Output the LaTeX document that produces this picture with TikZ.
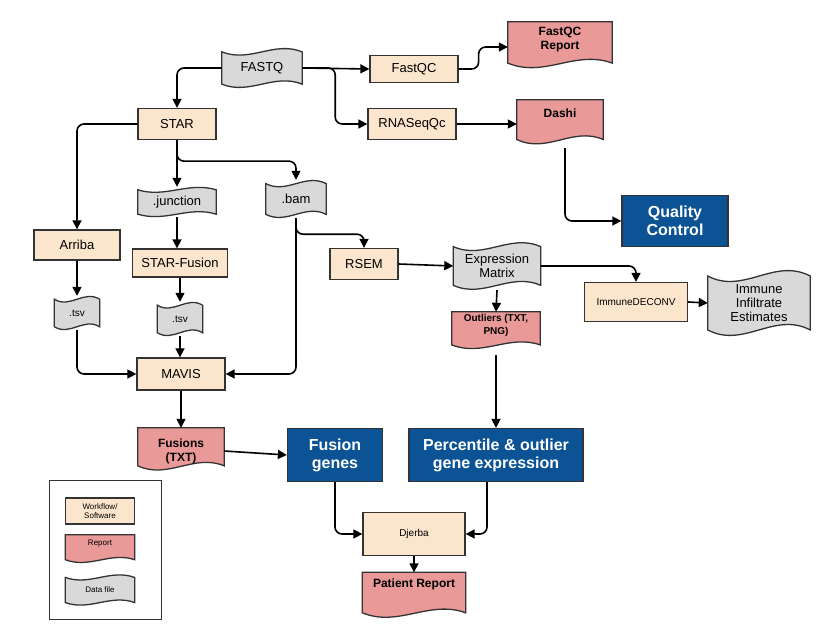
\documentclass[tikz,border=0pt]{standalone}
\usepackage{fontspec}
\setmainfont{Liberation Sans}
\usetikzlibrary{arrows.meta,calc,backgrounds}
\definecolor{beige}{HTML}{FCE5CD}
\definecolor{pinkr}{HTML}{EA9999}
\definecolor{grayd}{HTML}{D9D9D9}
\definecolor{blueq}{HTML}{0B5394}
\definecolor{bord}{HTML}{333333}
\newcommand\mydoc[2]{\begin{pgfonlayer}{background}\path[fill=#2,draw=bord,line width=1.3pt] let \p1=(#1.north west), \p2=(#1.south east), \n1={\y1-\y2}, \n2={\x2-\x1} in
 (\x1,\y1) -- (\x2,\y1) -- (\x2,{\y2+0.18*\n1}) .. controls ({\x2-0.35*\n2},{\y2+0.45*\n1}) and ({\x1+0.35*\n2},{\y2-0.12*\n1}) .. (\x1,{\y2+0.18*\n1}) -- cycle;\end{pgfonlayer}}
\newcommand\mytape[2]{\begin{pgfonlayer}{background}\path[fill=#2,draw=bord,line width=1.3pt] let \p1=(#1.north west), \p2=(#1.south east), \n1={\y1-\y2}, \n2={\x2-\x1} in
 (\x1,{\y1-0.1*\n1}) .. controls ({\x1+0.35*\n2},{\y1-0.38*\n1}) and ({\x2-0.35*\n2},{\y1+0.18*\n1}) .. (\x2,{\y1-0.1*\n1})
 -- (\x2,{\y2+0.1*\n1}) .. controls ({\x2-0.35*\n2},{\y2+0.38*\n1}) and ({\x1+0.35*\n2},{\y2-0.18*\n1}) .. (\x1,{\y2+0.1*\n1}) -- cycle;\end{pgfonlayer}}
\begin{document}
\begin{tikzpicture}[x=1pt,y=-1pt,
 base/.style={inner sep=0pt,align=center,font=\fontsize{13}{14}\selectfont},
 box/.style={base,draw=bord,fill=beige,line width=1.3pt},
 sh/.style={base},
 blue/.style={base,draw=bord,fill=blueq,line width=1.3pt,text=white,font=\fontsize{16}{18}\selectfont\bfseries},
 small/.style={font=\fontsize{10}{11}\selectfont},
 bfs/.style={font=\fontsize{12}{14}\selectfont\bfseries},
 arr/.style={draw=black,line width=1.6pt,rounded corners=7,-{Triangle[length=9pt,width=9pt]}},
 ln/.style={draw=black,line width=1.6pt,rounded corners=7}]
\path[use as bounding box] (0,0) rectangle (826,636);
\node[sh,minimum width=80,minimum height=40] (fastq) at (262,68) {FASTQ}; \mytape{fastq}{grayd}
\node[box,minimum width=88,minimum height=27] (fastqc) at (414,69) {FastQC};
\node[sh,bfs,minimum width=104,minimum height=50] (fqr) at (560,47) {FastQC\\Report\\[4pt]}; \mydoc{fqr}{pinkr}
\node[box,minimum width=78,minimum height=31] (star) at (177,124) {STAR};
\node[box,minimum width=88,minimum height=31] (rna) at (412,124) {RNASeqQc};
\node[sh,bfs,minimum width=86,minimum height=48] (dashi) at (560,124) {Dashi\\[8pt]}; \mydoc{dashi}{pinkr}
\node[blue,minimum width=106,minimum height=51] (qc) at (675,221) {Quality\\Control};
\node[sh,minimum width=78,minimum height=30] (junc) at (177,202) {.junction}; \mytape{junc}{grayd}
\node[sh,minimum width=60,minimum height=38] (bam) at (296,199) {.bam}; \mytape{bam}{grayd}
\node[box,minimum width=86,minimum height=30] (arriba) at (77,245) {Arriba};
\node[box,minimum width=95,minimum height=28] (sf) at (180,263) {STAR-Fusion};
\node[box,minimum width=68,minimum height=31] (rsem) at (364,264) {RSEM};
\node[sh,minimum width=87,minimum height=48] (expr) at (497,266) {Expression\\Matrix}; \mytape{expr}{grayd}
\node[box,small,minimum width=103,minimum height=39] (imm) at (636,302) {ImmuneDECONV};
\node[sh,minimum width=102,minimum height=67] (ies) at (759,303) {Immune\\Infiltrate\\Estimates}; \mytape{ies}{grayd}
\node[sh,small,minimum width=45,minimum height=34] (tsv1) at (77,313) {.tsv}; \mytape{tsv1}{grayd}
\node[sh,small,minimum width=45,minimum height=34] (tsv2) at (180,319) {.tsv}; \mytape{tsv2}{grayd}
\node[sh,font=\fontsize{10}{13}\selectfont\bfseries,minimum width=88,minimum height=40] (out) at (496,332) {Outliers (TXT,\\PNG)\\[2pt]}; \mydoc{out}{pinkr}
\node[box,minimum width=88,minimum height=32] (mavis) at (181,374) {MAVIS};
\node[sh,bfs,minimum width=86,minimum height=46] (fus) at (181,451) {Fusions\\(TXT)}; \mydoc{fus}{pinkr}
\node[blue,minimum width=95,minimum height=53] (fg) at (335,455) {Fusion\\genes};
\node[blue,minimum width=174,minimum height=53] (pct) at (496,455) {Percentile \& outlier\\gene expression};
\node[box,small,minimum width=102,minimum height=43] (dj) at (414,534) {Djerba};
\node[sh,bfs,minimum width=103,minimum height=49] (pr) at (414,597) {Patient Report\\[14pt]}; \mydoc{pr}{pinkr}
% legend
\node[draw=bord,line width=1pt,minimum width=112,minimum height=139] (leg) at (105,549.5) {};
\node[box,font=\fontsize{8}{9}\selectfont,minimum width=69,minimum height=26] (lw) at (100,511) {Workflow/\\Software};
\node[sh,font=\fontsize{8}{9}\selectfont,minimum width=69,minimum height=30] (lr) at (100,550) {Report\\[6pt]}; \mydoc{lr}{pinkr}
\node[sh,font=\fontsize{8}{9}\selectfont,minimum width=69,minimum height=31] (ld) at (100,590) {Data file}; \mytape{ld}{grayd}
% connectors
\draw[arr] (fastq.west) -| (star.north);
\draw[arr] (fastq.east) -- (fastqc.west);
\draw[arr] (fastq.east) -- ++(33,0) |- (rna.west);
\draw[arr] (fastqc.east) -- ++(20,0) |- (fqr.west);
\draw[arr] (rna.east) -- (dashi.west);
\draw[arr] ([xshift=5]dashi.south) |- (qc.west);
\draw[arr] (star.west) -| (arriba.north);
\draw[arr] (star.south) -- (junc.north);
\draw[arr] (star.south) -- ++(0,21) -| (bam.north);
\draw[arr] (junc.south) -- (sf.north -| junc.south);
\draw[arr] (sf.south) -- (tsv2.north);
\draw[arr] (tsv2.south) -- (mavis.north -| tsv2.south);
\draw[arr] (arriba.south) -- (tsv1.north);
\draw[arr] (tsv1.south) |- (mavis.west);
\draw[arr] (bam.south) |- (mavis.east);
\draw[arr] (bam.south) -- ++(0,16) -| (rsem.north);
\draw[arr] (rsem.east) -- (expr.west);
\draw[arr] (expr.east) -| (imm.north);
\draw[arr] (expr.south) -- (out.north);
\draw[arr] (imm.east) -- (ies.west);
\draw[arr] ([yshift=-3]out.south) -- (pct.north);
\draw[arr] (mavis.south) -- (fus.north);
\draw[arr] (fus.east) -- (fg.west);
\draw[arr] (fg.south) |- (dj.west);
\draw[arr] ([xshift=-9]pct.south) |- (dj.east);
\draw[arr] (dj.south) -- (pr.north);
\end{tikzpicture}
\end{document}
